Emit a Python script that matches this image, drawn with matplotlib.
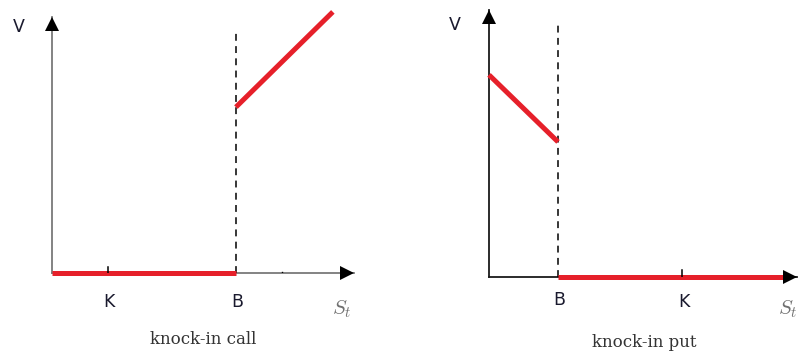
import matplotlib
matplotlib.use("Agg")
import matplotlib.pyplot as plt
from matplotlib.transforms import offset_copy

plt.rcParams['mathtext.fontset'] = 'cm'

# ---- data (knock-in call) ----
call_K = 1.85
call_B = 6.09
call_tick2 = 7.6
call_zero_x = [0.0, 6.09]
call_zero_y = [0.0, 0.0]
call_live_x = [6.09, 9.3]
call_live_y = [6.48, 10.2]
call_dash_top = 9.5

# ---- data (knock-in put) ----
put_B = 2.24
put_K = 6.27
put_live_x = [0.0, 2.24]
put_live_y = [7.57, 5.06]
put_zero_x = [2.24, 9.77]
put_zero_y = [0.0, 0.0]
put_dash_top = 9.44

RED = '#e6202a'
W, H = 798, 352
fig = plt.figure(figsize=(W / 100, H / 100), dpi=100)


def make_ax(x0, x1, ybase, ytop):
    ax = fig.add_axes([x0 / W, (H - ybase) / H, (x1 - x0) / W, (ybase - ytop) / H])
    ax.set_xlim(0, 10)
    ax.set_ylim(0, 10)
    ax.axis('off')
    return ax


MS = 10


def axes_arrows(ax, color):
    ax.plot([0, 10], [0, 0], color=color, lw=1.3, clip_on=False, zorder=1)
    ax.plot([0, 0], [0, 10], color=color, lw=1.3, clip_on=False, zorder=1)
    tr_x = offset_copy(ax.transData, fig=fig, x=-MS / 2, y=0, units='points')
    tr_y = offset_copy(ax.transData, fig=fig, x=0, y=-MS / 2, units='points')
    ax.plot(10, 0, marker='>', color='black', ms=MS, clip_on=False, zorder=5,
            markeredgewidth=0, transform=tr_x)
    ax.plot(0, 10, marker='^', color='black', ms=MS, clip_on=False, zorder=5,
            markeredgewidth=0, transform=tr_y)


sans = 'DejaVu Sans'
lab_fs = 12.5

# Left panel
ax1 = make_ax(52, 354, 273, 17)
axes_arrows(ax1, '#7a7a7a')
ax1.plot([call_B, call_B], [0, call_dash_top], color='black', lw=1.1,
         linestyle=(0, (4.5, 3.5)), zorder=2)
ax1.plot(call_zero_x, call_zero_y, color=RED, lw=3.6, solid_capstyle='butt',
         zorder=3, clip_on=False)
ax1.plot(call_live_x, call_live_y, color=RED, lw=3.6, solid_capstyle='butt',
         zorder=3, clip_on=False)
ax1.plot([call_K, call_K], [0, 0.25], color='black', lw=1.1, zorder=4)
ax1.plot([call_tick2, call_tick2], [-0.05, 0.05], color='black', lw=1.0, zorder=4)
ax1.text(-1.1, 9.6, 'V', fontsize=lab_fs, family=sans, ha='center', va='center', color='#1a1a2e')
ax1.text(call_K + 0.05, -1.15, 'K', fontsize=lab_fs, family=sans, ha='center', va='center', color='#1a1a2e')
ax1.text(call_B + 0.05, -1.15, 'B', fontsize=lab_fs, family=sans, ha='center', va='center', color='#1a1a2e')
ax1.text(9.6, -1.4, r'$S_t$', fontsize=15, ha='center', va='center', color='#707070')
ax1.text(5.0, -2.6, 'knock-in call', fontsize=12, family='DejaVu Serif',
         ha='center', va='center', color='#333333')

# Right panel
ax2 = make_ax(489, 797, 277, 10)
axes_arrows(ax2, '#1a1a1a')
ax2.plot([put_B, put_B], [0, put_dash_top], color='black', lw=1.1,
         linestyle=(0, (4.5, 3.5)), zorder=2)
ax2.plot(put_live_x, put_live_y, color=RED, lw=3.6, solid_capstyle='butt',
         zorder=3, clip_on=False)
ax2.plot(put_zero_x, put_zero_y, color=RED, lw=3.6, solid_capstyle='butt',
         zorder=3, clip_on=False)
ax2.plot([put_K, put_K], [0, 0.25], color='black', lw=1.1, zorder=4)
ax2.text(-1.12, 9.45, 'V', fontsize=lab_fs, family=sans, ha='center', va='center', color='#1a1a2e')
ax2.text(put_B + 0.05, -0.85, 'B', fontsize=lab_fs, family=sans, ha='center', va='center', color='#1a1a2e')
ax2.text(put_K + 0.05, -0.95, 'K', fontsize=lab_fs, family=sans, ha='center', va='center', color='#1a1a2e')
ax2.text(9.7, -1.2, r'$S_t$', fontsize=15, ha='center', va='center', color='#707070')
ax2.text(5.05, -2.45, 'knock-in put', fontsize=12, family='DejaVu Serif',
         ha='center', va='center', color='#333333')

fig.savefig('out.png', dpi=100)
